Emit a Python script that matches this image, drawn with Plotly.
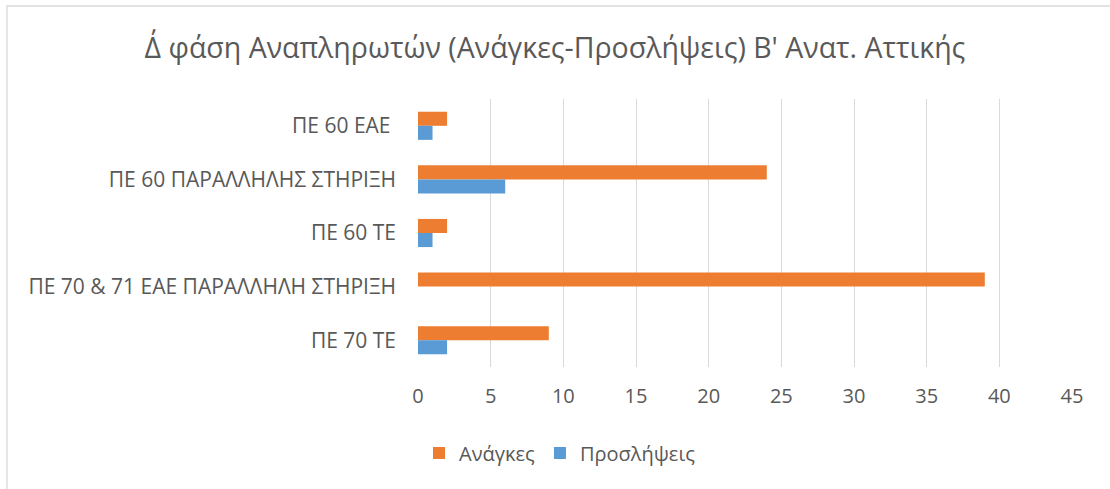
import plotly.graph_objects as go

categories = ["ΠΕ 60 ΕΑΕ ", "ΠΕ 60 ΠΑΡΑΛΛΗΛΗΣ ΣΤΗΡΙΞΗ", "ΠΕ 60 ΤΕ",
              "ΠΕ 70 & 71 ΕΑΕ ΠΑΡΑΛΛΗΛΗ ΣΤΗΡΙΞΗ", "ΠΕ 70 ΤΕ"]
needs = [2, 24, 2, 39, 9]
hires = [1, 6, 1, 0, 2]
x_ticks = [0, 5, 10, 15, 20, 25, 30, 35, 40, 45]
title = "Δ΄ φάση Αναπληρωτών (Ανάγκες-Προσλήψεις) Β' Ανατ. Αττικής"

FONT = "Open Sans"
GREY = "#595959"

fig = go.Figure()
fig.add_trace(go.Bar(y=categories, x=needs, name="Ανάγκες", orientation="h",
                     marker=dict(color="#ED7D31", line=dict(width=0))))
fig.add_trace(go.Bar(y=categories, x=hires, name="Προσλήψεις", orientation="h",
                     marker=dict(color="#5B9BD5", line=dict(width=0))))

W, H = 1110, 489
L, R, T, B = 418, 38, 99, 122
pw, ph = W - L - R, H - T - B

def px(x):
    return (x - L) / pw

def py(y):
    return (H - B - y) / ph

fig.update_layout(
    width=W, height=H,
    margin=dict(l=L, r=R, t=T, b=B),
    paper_bgcolor="white", plot_bgcolor="white",
    barmode="group", bargap=0.475, bargroupgap=0,
    font=dict(family=FONT, color=GREY, size=20),
    title=dict(text=title, x=0.5, xref="container", xanchor="center",
               y=1 - 48 / H, yanchor="middle",
               font=dict(family=FONT, size=28.5, color=GREY)),
    xaxis=dict(range=[0, 45], tickvals=x_ticks, showgrid=True,
               gridcolor="#D9D9D9", gridwidth=1, zeroline=False,
               showline=False, ticks="", ticklabelstandoff=15,
               tickfont=dict(size=20, color=GREY)),
    yaxis=dict(autorange="reversed", showgrid=False, zeroline=False,
               showline=False, ticks="", ticklabelstandoff=21,
               tickfont=dict(size=21, color=GREY)),
    legend=dict(orientation="h", x=px(560), xanchor="center",
                y=py(453), yanchor="middle", itemwidth=30,
                font=dict(size=20, color=GREY), traceorder="normal"),
    showlegend=True,
    shapes=[dict(type="rect", xref="paper", yref="paper",
                 x0=px(7), x1=px(1120), y0=py(500), y1=py(6),
                 line=dict(color="#D9D9D9", width=1.3), layer="below")],
)

fig.write_html("out.html", config={"displayModeBar": False},
               post_script="document.body.style.margin='0';")
